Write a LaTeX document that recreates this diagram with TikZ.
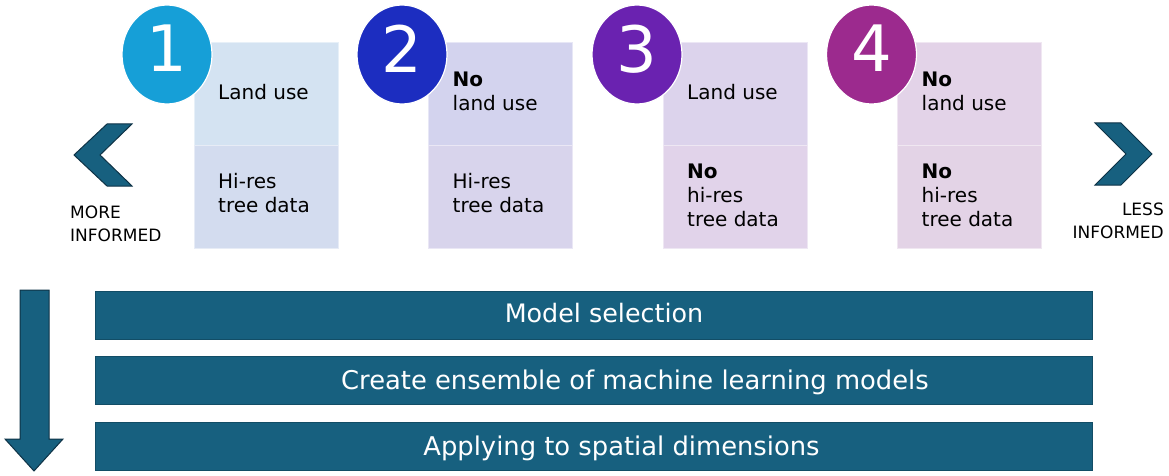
\documentclass[tikz,border=0pt]{standalone}
\usepackage{fontspec}
\setmainfont{DejaVu Sans}
\usetikzlibrary{shapes.geometric}

\definecolor{navy}{HTML}{17607F}
\definecolor{navyline}{HTML}{0E3246}
\definecolor{discA}{HTML}{169FD7}
\definecolor{discB}{HTML}{1C2DC0}
\definecolor{discC}{HTML}{6A22B0}
\definecolor{discD}{HTML}{9C2A8E}
\definecolor{topA}{HTML}{D4E3F2}
\definecolor{botA}{HTML}{D3DCEF}
\definecolor{topB}{HTML}{D3D3EE}
\definecolor{botB}{HTML}{D8D4EC}
\definecolor{topC}{HTML}{DCD3EC}
\definecolor{botC}{HTML}{E1D3EA}
\definecolor{topD}{HTML}{E3D3E8}
\definecolor{botD}{HTML}{E3D3E6}

% lines stacked from the first baseline down
\newcommand{\linesL}[1]{\begin{tabular}[t]{@{}l@{}}#1\end{tabular}}
\newcommand{\linesR}[1]{\begin{tabular}[t]{@{}r@{}}#1\end{tabular}}

\begin{document}
\begin{tikzpicture}[x=1pt,y=-1pt,
    cell/.style={rectangle, fill=#1, draw=#1!55!white, line width=0.8pt, minimum width=144pt, minimum height=103pt, inner sep=0pt},
    disc/.style={ellipse, draw=white, line width=1.2pt, minimum width=90pt, minimum height=99pt, inner sep=0pt, text=white, text depth=12pt, font=\fontsize{64}{64}\selectfont},
    celltext/.style={anchor=base west, inner sep=0pt, font=\fontsize{20}{24}\selectfont},
    sidetext/.style={anchor=base west, inner sep=0pt, font=\fontsize{17}{23}\selectfont},
    bar/.style={rectangle, fill=navy, draw=navy!80!black, line width=0.5pt, minimum width=997pt, minimum height=48pt, inner sep=0pt},
    bartext/.style={anchor=base, inner sep=0pt, text=white, font=\fontsize{25.8}{26}\selectfont},
    chev/.style={fill=navy, draw=navyline, line width=1pt, line join=miter}]
    \useasboundingbox (0,0) rectangle (1169,476);
    % Column 1
    \node[cell=topA] (top1) at (266,93.5) {};
    \node[cell=botA] (bot1) at (266,196.5) {};
    \node[disc, fill=discA] (num1) at (167,54.5) {1};
    \node[celltext] (lu1) at (218,100) {Land use};
    \node[celltext] (tr1) at (218,188) {\linesL{Hi-res\\tree data}};
    % Column 2
    \node[cell=topB] (top2) at (500.5,93.5) {};
    \node[cell=botB] (bot2) at (500.5,196.5) {};
    \node[disc, fill=discB] (num2) at (402,54.5) {2};
    \node[celltext] (lu2) at (452.5,87) {\linesL{\textbf{No}\\land use}};
    \node[celltext] (tr2) at (452.5,188) {\linesL{Hi-res\\tree data}};
    % Column 3
    \node[cell=topC] (top3) at (735,93.5) {};
    \node[cell=botC] (bot3) at (735,196.5) {};
    \node[disc, fill=discC] (num3) at (637,54.5) {3};
    \node[celltext] (lu3) at (687,100) {Land use};
    \node[celltext] (tr3) at (687,178) {\linesL{\textbf{No}\\hi-res\\tree data}};
    % Column 4
    \node[cell=topD] (top4) at (969.5,93.5) {};
    \node[cell=botD] (bot4) at (969.5,196.5) {};
    \node[disc, fill=discD] (num4) at (871.5,54.5) {4};
    \node[celltext] (lu4) at (921.5,87) {\linesL{\textbf{No}\\land use}};
    \node[celltext] (tr4) at (921.5,178) {\linesL{\textbf{No}\\hi-res\\tree data}};
    % Left and right chevrons
    \draw[chev] (132,124) -- (107,124) -- (74,155) -- (107,186) -- (132,186) -- (100,155) -- cycle;
    \draw[chev] (1095,123) -- (1121,123) -- (1152,154) -- (1121,185) -- (1095,185) -- (1126,154) -- cycle;
    \node[sidetext] (more) at (70,218) {\linesL{MORE\\INFORMED}};
    \node[sidetext, anchor=base east] (less) at (1164,215) {\linesR{LESS\hspace{7pt}\\INFORMED}};
    % Workflow bars
    \draw[chev] (20,290) -- (49,290) -- (49,439) -- (63,439) -- (34,471) -- (5,439) -- (20,439) -- cycle; % Down arrow
    \node[bar] (selbar) at (593.5,315) {};
    \node[bar] (ensbar) at (593.5,380.5) {};
    \node[bar] (spabar) at (593.5,446) {};
    \node[bartext, font=\fontsize{25.4}{26}\selectfont] (seltxt) at (604,322) {Model selection};
    \node[bartext] (enstxt) at (635,389) {Create ensemble of machine learning models};
    \node[bartext] (spatxt) at (621.5,455) {Applying to spatial dimensions};
\end{tikzpicture}
\end{document}
